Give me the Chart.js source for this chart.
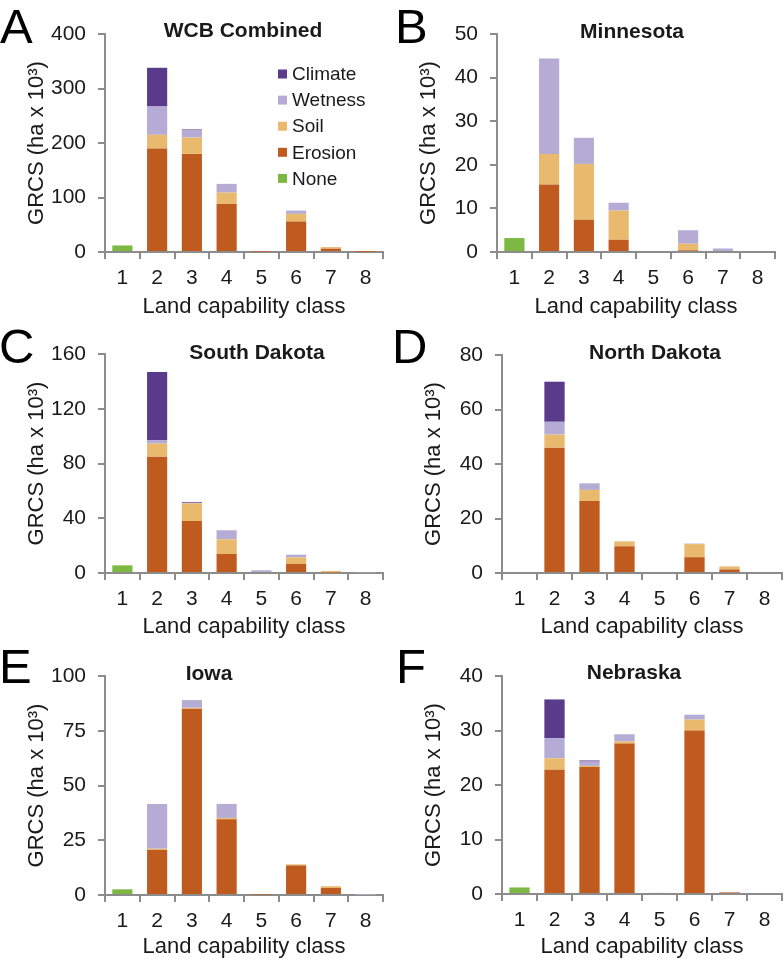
<!DOCTYPE html>
<html>
<head>
<meta charset="utf-8">
<title>GRCS by land capability class</title>
<script src="https://cdn.jsdelivr.net/npm/chart.js@4.4.1/dist/chart.umd.min.js"></script>
<style>
  body { margin: 0; background: #fff; }
  #page { position: relative; width: 784px; height: 964px; overflow: hidden; }
  .panel { position: absolute; }
  .panel canvas { position: absolute; left: 0; top: 0; }
  .letter {
    position: absolute; top: 2px;
    font: 49px/49px "Liberation Sans", Arial, sans-serif;
    color: #000;
  }
</style>
</head>
<body>
<div id="page"></div>
<script>

const classes = ['1', '2', '3', '4', '5', '6', '7', '8'];
const causes = ['None', 'Erosion', 'Soil', 'Wetness', 'Climate'];
const causeColors = ['#7db843', '#c05b1f', '#e9b96e', '#b4acd4', '#5a3a8b'];

// A - WCB Combined
const wcbNone    = [12, 0, 0, 0, 0, 0, 0, 0];
const wcbErosion = [0, 190, 180, 88, 0.5, 56, 6, 0.3];
const wcbSoil    = [0, 25, 30, 21, 0, 14, 3, 0];
const wcbWetness = [0, 52, 14, 16, 1.5, 6, 0, 0.3];
const wcbClimate = [0, 71, 1, 0, 0, 0, 0, 0];

// B - Minnesota
const mnNone    = [3.2, 0, 0, 0, 0, 0, 0, 0];
const mnErosion = [0, 15.5, 7.4, 2.8, 0, 0.4, 0, 0];
const mnSoil    = [0, 7.0, 12.8, 6.7, 0, 1.5, 0, 0];
const mnWetness = [0, 21.9, 6.0, 1.8, 0, 3.1, 0.8, 0];
const mnClimate = [0, 0, 0, 0, 0, 0, 0, 0];

// C - South Dakota
const sdNone    = [5.6, 0, 0, 0, 0, 0, 0, 0];
const sdErosion = [0, 85, 38, 13.9, 0, 6.6, 0.5, 0];
const sdSoil    = [0, 9.5, 12.9, 10.7, 0, 4.8, 1, 0];
const sdWetness = [0, 2.7, 0.4, 6.6, 2, 2, 0, 0.4];
const sdClimate = [0, 49.7, 0.6, 0, 0, 0, 0, 0];

// D - North Dakota
const ndNone    = [0, 0, 0, 0, 0, 0, 0, 0];
const ndErosion = [0, 46, 26.4, 9.8, 0, 5.8, 1.3, 0];
const ndSoil    = [0, 4.8, 4.1, 1.8, 0, 4.8, 1.1, 0];
const ndWetness = [0, 4.7, 2.4, 0, 0, 0.2, 0, 0];
const ndClimate = [0, 14.7, 0, 0, 0, 0, 0, 0];

// E - Iowa
const iaNone    = [2.6, 0, 0, 0, 0, 0, 0, 0];
const iaErosion = [0, 20.5, 85.1, 34.6, 0.2, 13.5, 3.2, 0];
const iaSoil    = [0, 0.6, 0.4, 0.6, 0, 0.5, 0.8, 0];
const iaWetness = [0, 20.5, 3.5, 6.4, 0, 0, 0, 0.1];
const iaClimate = [0, 0, 0, 0, 0, 0, 0, 0];

// F - Nebraska
const neNone    = [1.2, 0, 0, 0, 0, 0, 0, 0];
const neErosion = [0, 22.8, 23.3, 27.6, 0.2, 30, 0.3, 0];
const neSoil    = [0, 2.1, 0.2, 0.4, 0, 2, 0, 0];
const neWetness = [0, 3.7, 0.8, 1.3, 0, 0.9, 0, 0];
const neClimate = [0, 7.1, 0.2, 0, 0, 0, 0, 0];

const axisGrey = '#8c8c8c';
const textColor = '#1a1a1a';
const fontFamily = '"Liberation Sans", Arial, sans-serif';

// box: panel x, y, w, h ; area: axis left, right, top, bottom inside the panel
const panels = [
  { letter: 'A', letterX: 0,   title: 'WCB Combined', max: 400, step: 100,
    data: [wcbNone, wcbErosion, wcbSoil, wcbWetness, wcbClimate],
    box: [0, 0, 392, 320], area: [105, 383, 34, 252], titleAt: [243, 31], legend: true },
  { letter: 'B', letterX: 3,   title: 'Minnesota', max: 50, step: 10,
    data: [mnNone, mnErosion, mnSoil, mnWetness, mnClimate],
    box: [392, 0, 392, 320], area: [105, 383, 34, 252], titleAt: [240, 32] },
  { letter: 'C', letterX: -1,  title: 'South Dakota', max: 160, step: 40,
    data: [sdNone, sdErosion, sdSoil, sdWetness, sdClimate],
    box: [0, 320, 392, 320], area: [105, 383, 34, 253], titleAt: [257, 33] },
  { letter: 'D', letterX: 0,   title: 'North Dakota', max: 80, step: 20,
    data: [ndNone, ndErosion, ndSoil, ndWetness, ndClimate],
    box: [392, 320, 392, 320], area: [110, 390, 35, 253], titleAt: [263, 33] },
  { letter: 'E', letterX: -1,  title: 'Iowa', max: 100, step: 25,
    data: [iaNone, iaErosion, iaSoil, iaWetness, iaClimate],
    box: [0, 640, 392, 324], area: [105, 383, 36, 255], titleAt: [209, 34] },
  { letter: 'F', letterX: 4,   title: 'Nebraska', max: 40, step: 10,
    data: [neNone, neErosion, neSoil, neWetness, neClimate],
    box: [392, 640, 392, 324], area: [110, 390, 36, 254], titleAt: [242, 33] }
];

// draws the bold panel title and (panel A only) the legend inside the plot
const panelText = {
  id: 'panelText',
  afterDraw(chart, args, opts) {
    const ctx = chart.ctx;
    ctx.save();
    ctx.fillStyle = textColor;
    ctx.textAlign = 'center';
    ctx.textBaseline = 'middle';
    ctx.font = 'bold 21px ' + fontFamily;
    ctx.fillText(opts.title, opts.titleX, opts.titleY);

    if (opts.legend) {
      ctx.font = '19px ' + fontFamily;
      ctx.textAlign = 'left';
      chart.data.datasets.slice().reverse().forEach((ds, i) => {
        const y = 74 + i * 26.1;
        ctx.fillStyle = ds.backgroundColor;
        ctx.fillRect(278, y - 4.5, 9, 9);
        ctx.fillStyle = textColor;
        ctx.fillText(ds.label, 292, y + 1);
      });
    }
    ctx.restore();
  }
};

const page = document.querySelector('#page');

panels.forEach((p) => {
  const [px, py, w, h] = p.box;
  const [left, right, top, bottom] = p.area;

  const wrap = document.createElement('div');
  wrap.className = 'panel';
  wrap.style.left = px + 'px';
  wrap.style.top = py + 'px';
  wrap.style.width = w + 'px';
  wrap.style.height = h + 'px';

  const canvas = document.createElement('canvas');
  canvas.width = w;
  canvas.height = h;
  wrap.appendChild(canvas);

  const letter = document.createElement('div');
  letter.className = 'letter';
  letter.style.left = p.letterX + 'px';
  letter.textContent = p.letter;
  wrap.appendChild(letter);

  page.appendChild(wrap);

  const tickFont = { family: fontFamily, size: 21 };
  const titleFont = { family: fontFamily, size: 22 };

  new Chart(canvas, {
    type: 'bar',
    data: {
      labels: classes,
      datasets: causes.map((c, i) => ({
        label: c,
        data: p.data[i],
        backgroundColor: causeColors[i],
        borderWidth: 0
      }))
    },
    options: {
      responsive: false,
      animation: false,
      devicePixelRatio: 1,
      layout: { padding: { left: 0, right: w - right, top: top, bottom: 0 } },
      datasets: { bar: { categoryPercentage: 1, barPercentage: 0.58 } },
      plugins: {
        legend: { display: false },
        tooltip: { enabled: false },
        panelText: { title: p.title, titleX: p.titleAt[0], titleY: p.titleAt[1], legend: !!p.legend }
      },
      scales: {
        x: {
          stacked: true,
          grid: { offset: true, drawOnChartArea: false, tickLength: 7, color: axisGrey, lineWidth: 2 },
          border: { color: axisGrey, width: 2 },
          ticks: { font: tickFont, color: textColor, padding: 7, maxRotation: 0 },
          title: {
            display: true,
            text: 'Land capability class',
            font: titleFont,
            color: textColor,
            padding: { top: 0, bottom: h - 320 }
          },
          afterFit: (scale) => { scale.height = h - bottom; }
        },
        y: {
          stacked: true,
          min: 0,
          max: p.max,
          ticks: { stepSize: p.step, font: tickFont, color: textColor, padding: 12 },
          grid: { drawOnChartArea: false, tickLength: 7, color: axisGrey, lineWidth: 2 },
          border: { color: axisGrey, width: 2 },
          title: {
            display: true,
            text: 'GRCS (ha x 10³)',
            font: titleFont,
            color: textColor,
            padding: { top: left - 68 - 13, bottom: 0 }
          },
          afterFit: (scale) => { scale.width = left; }
        }
      }
    },
    plugins: [panelText]
  });
});
</script>
</body>
</html>
